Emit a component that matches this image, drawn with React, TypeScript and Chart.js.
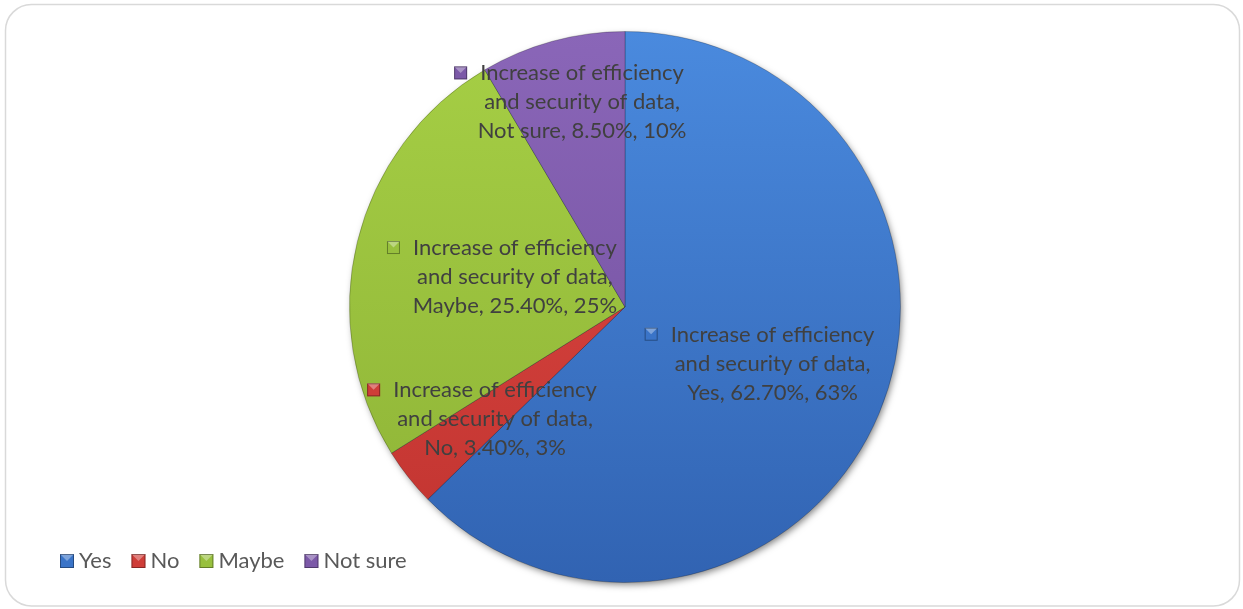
import React, { useEffect, useRef } from "react";
import { Chart, registerables } from "chart.js";

Chart.register(...registerables);

// ---- data ----
const categories = ["Yes", "No", "Maybe", "Not sure"];
const values = [62.7, 3.4, 25.4, 8.5];
const valueLabels = ["62.70%", "3.40%", "25.40%", "8.50%"];
const percentLabels = ["63%", "3%", "25%", "10%"];
const seriesNameLines = ["Increase of efficiency", "and security of data,"];

// ---- styles ----
const topColors = ["#4a8ade", "#e04a45", "#a6cf45", "#8a66b8"];
const bottomColors = ["#3163b2", "#c0332f", "#8db236", "#6f4d9b"];
const markerColors = ["#3a74c8", "#cf3d38", "#98c03e", "#7c59a8"];
const labelDistance = [0.53, 0.66, 0.46, 0.77];
const FONT = "22px Lato, 'Open Sans', sans-serif";
const MARKER = 13;
const MARKER_GAP = 13;

function bevelMarker(ctx: CanvasRenderingContext2D, x: number, y: number, s: number, color: string) {
  ctx.save();
  ctx.fillStyle = color;
  ctx.fillRect(x, y, s, s);
  ctx.fillStyle = "rgba(255,255,255,0.35)";
  ctx.beginPath();
  ctx.moveTo(x, y);
  ctx.lineTo(x + s, y);
  ctx.lineTo(x + s / 2, y + s / 2);
  ctx.closePath();
  ctx.fill();
  ctx.strokeStyle = "rgba(0,0,0,0.35)";
  ctx.lineWidth = 1;
  ctx.strokeRect(x + 0.5, y + 0.5, s - 1, s - 1);
  ctx.restore();
}

const decorPlugin = {
  id: "decor",
  beforeDraw(chart: any) {
    const ctx = chart.ctx as CanvasRenderingContext2D;
    ctx.save();
    ctx.fillStyle = "#ffffff";
    ctx.fillRect(0, 0, chart.width, chart.height);
    ctx.strokeStyle = "#d9d9d9";
    ctx.lineWidth = 1.5;
    ctx.beginPath();
    (ctx as any).roundRect(5.5, 4.5, 1234, 601.5, 26);
    ctx.stroke();
    ctx.restore();
  },
  beforeDatasetsDraw(chart: any) {
    const ctx = chart.ctx as CanvasRenderingContext2D;
    const arc = chart.getDatasetMeta(0).data[0] as any;
    if (!arc) return;
    ctx.save();
    ctx.shadowColor = "rgba(0,0,0,0.5)";
    ctx.shadowBlur = 7;
    ctx.shadowOffsetX = 2;
    ctx.shadowOffsetY = 3;
    ctx.fillStyle = "#3a6fc0";
    ctx.beginPath();
    ctx.arc(arc.x, arc.y, arc.outerRadius - 1, 0, Math.PI * 2);
    ctx.fill();
    ctx.restore();
  },
  afterDatasetsDraw(chart: any) {
    const ctx = chart.ctx as CanvasRenderingContext2D;
    const meta = chart.getDatasetMeta(0);
    ctx.save();
    ctx.font = FONT;
    ctx.textBaseline = "middle";
    const lh = 29;
    meta.data.forEach((el: any, i: number) => {
      const p = el.getProps(["x", "y", "startAngle", "endAngle", "outerRadius"], true);
      const mid = (p.startAngle + p.endAngle) / 2;
      const ax = p.x + Math.cos(mid) * p.outerRadius * labelDistance[i];
      const cy = p.y + Math.sin(mid) * p.outerRadius * labelDistance[i];
      const cx = ax + (MARKER + MARKER_GAP) / 2;
      const lines = [
        seriesNameLines[0],
        seriesNameLines[1],
        `${categories[i]}, ${valueLabels[i]}, ${percentLabels[i]}`,
      ];
      ctx.fillStyle = "#404040";
      ctx.textAlign = "center";
      lines.forEach((t, k) => ctx.fillText(t, cx, cy + (k - 1) * lh));
      const w1 = ctx.measureText(lines[0]).width;
      bevelMarker(ctx, cx - w1 / 2 - MARKER_GAP - MARKER, cy - lh - 7, MARKER, markerColors[i]);
    });

    // legend
    let x = 60;
    const ly = 561;
    ctx.textAlign = "left";
    categories.forEach((c, i) => {
      bevelMarker(ctx, x, ly - 7, 14, markerColors[i]);
      x += 19;
      ctx.fillStyle = "#595959";
      ctx.fillText(c, x, ly);
      x += ctx.measureText(c).width + 20;
    });
    ctx.restore();
  },
};

export default function App() {
  const ref = useRef<HTMLCanvasElement | null>(null);
  useEffect(() => {
    if (!ref.current) return;
    const chart = new Chart(ref.current, {
      type: "pie",
      data: {
        labels: categories,
        datasets: [
          {
            label: seriesNameLines.join(" "),
            data: values,
            backgroundColor: (c: any) => {
              const area = c.chart.chartArea;
              const i = c.dataIndex;
              if (!area || i === undefined) return topColors[i ?? 0];
              const g = c.chart.ctx.createLinearGradient(0, area.top, 0, area.bottom);
              g.addColorStop(0, topColors[i]);
              g.addColorStop(1, bottomColors[i]);
              return g;
            },
            borderColor: "rgba(0,0,0,0.22)",
            borderWidth: 1,
          },
        ],
      },
      options: {
        responsive: false,
        animation: false,
        layout: { padding: { top: 31, bottom: 26, left: 7, right: 0 } },
        plugins: {
          legend: { display: false },
          tooltip: { enabled: false },
        },
      },
      plugins: [decorPlugin],
    });
    return () => chart.destroy();
  }, []);
  return (
    <div style={{ position: "fixed", left: 0, top: 0, width: 1243, height: 609, background: "#fff" }}>
      <canvas ref={ref} width={1243} height={609} />
    </div>
  );
}
